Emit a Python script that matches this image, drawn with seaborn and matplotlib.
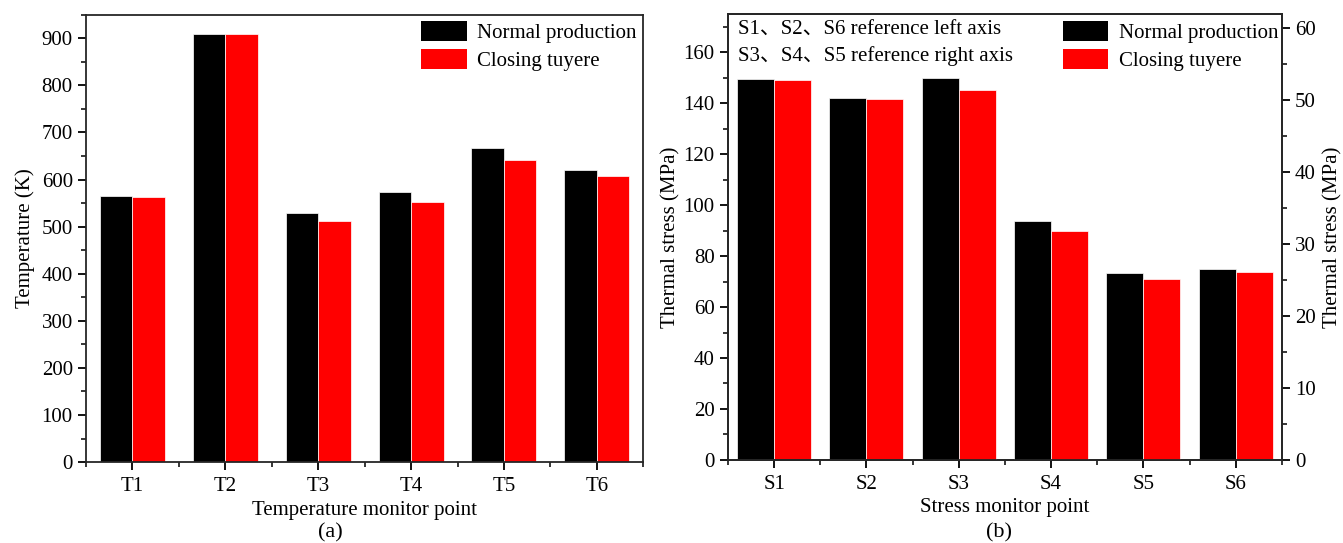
import numpy as np
import pandas as pd
import matplotlib
matplotlib.use("Agg")
import matplotlib.pyplot as plt
from matplotlib.patches import Patch
from matplotlib.ticker import MultipleLocator, FixedLocator
import seaborn as sns

# ---------------- data ----------------
temp_points = ["T1", "T2", "T3", "T4", "T5", "T6"]
temp_normal = [564, 910, 529, 573, 666, 620]
temp_closing = [563, 910, 512, 553, 642, 608]

stress_points = ["S1", "S2", "S3", "S4", "S5", "S6"]
# S1, S2, S6 read on the left axis; S3, S4, S5 read on the right axis
stress_normal = [149.6, 142.1, 53.1, 33.2, 26.0, 74.9]
stress_closing = [149.0, 141.7, 51.5, 31.8, 25.1, 73.9]
stress_axis = ["left", "left", "right", "right", "right", "left"]

conditions = ["Normal production", "Closing tuyere"]
colors = ["#000000", "#ff0000"]

# ---------------- style ----------------
sns.set_style("ticks")
plt.rcParams["font.family"] = ["Liberation Serif", "Noto Sans CJK SC", "DejaVu Sans"]
plt.rcParams["axes.linewidth"] = 1.3
plt.rcParams["xtick.major.width"] = 1.3
plt.rcParams["ytick.major.width"] = 1.3
plt.rcParams["xtick.minor.width"] = 1.1
plt.rcParams["ytick.minor.width"] = 1.1
plt.rcParams["xtick.major.size"] = 6
plt.rcParams["ytick.major.size"] = 6
plt.rcParams["xtick.minor.size"] = 3.5
plt.rcParams["ytick.minor.size"] = 3.5
plt.rcParams["xtick.direction"] = "out"
plt.rcParams["ytick.direction"] = "out"
plt.rcParams["text.color"] = "black"
plt.rcParams["axes.labelcolor"] = "black"
plt.rcParams["xtick.color"] = "black"
plt.rcParams["ytick.color"] = "black"

FS_TICK = 15
FS_LABEL = 15

fig = plt.figure(figsize=(13.43, 5.43), dpi=100)
axL = fig.add_axes([0.064, 0.149, 0.415, 0.824])
axR = fig.add_axes([0.542, 0.153, 0.4125, 0.821])
axRR = axR.twinx()

# ---------------- left chart ----------------
dfT = pd.DataFrame({
    "point": temp_points * 2,
    "value": temp_normal + temp_closing,
    "condition": [conditions[0]] * 6 + [conditions[1]] * 6,
})
sns.barplot(data=dfT, x="point", y="value", hue="condition", order=temp_points,
            hue_order=conditions, palette=colors, width=0.7, saturation=1,
            errorbar=None, legend=False, edgecolor="white", linewidth=0.5, ax=axL)
axL.set_xlim(-0.5, 5.5)
axL.set_ylim(0, 950)
axL.yaxis.set_major_locator(MultipleLocator(100))
axL.yaxis.set_minor_locator(MultipleLocator(50))
axL.xaxis.set_minor_locator(FixedLocator(np.arange(-0.5, 6.0, 1.0)))
axL.set_xlabel("Temperature monitor point", fontsize=FS_LABEL, labelpad=3)
axL.set_ylabel("Temperature (K)", fontsize=FS_LABEL, labelpad=5)
axL.tick_params(axis="both", labelsize=FS_TICK)
axL.tick_params(axis="x", pad=5)
axL.tick_params(top=False, right=False, which="both")
axL.legend(handles=[Patch(facecolor=c, edgecolor="none") for c in colors], labels=conditions,
           loc="upper left", bbox_to_anchor=(0.601, 0.985), frameon=False,
           fontsize=FS_LABEL, handlelength=2.2, handleheight=1.1, handletextpad=0.5,
           labelspacing=0.25, borderpad=0, borderaxespad=0)

# ---------------- right chart ----------------
rows = []
for i, p in enumerate(stress_points):
    rows.append((p, stress_normal[i], conditions[0], stress_axis[i]))
    rows.append((p, stress_closing[i], conditions[1], stress_axis[i]))
dfS = pd.DataFrame(rows, columns=["point", "value", "condition", "axis"])

sns.barplot(data=dfS[dfS["axis"] == "left"], x="point", y="value", hue="condition",
            order=stress_points, hue_order=conditions, palette=colors, width=0.8,
            saturation=1, errorbar=None, legend=False, edgecolor="white", linewidth=0.5, ax=axR)
sns.barplot(data=dfS[dfS["axis"] == "right"], x="point", y="value", hue="condition",
            order=stress_points, hue_order=conditions, palette=colors, width=0.8,
            saturation=1, errorbar=None, legend=False, edgecolor="white", linewidth=0.5, ax=axRR)

for a in (axR, axRR):
    a.set_xlim(-0.5, 5.5)
axR.set_ylim(0, 175)
axRR.set_ylim(0, 62)
axR.yaxis.set_major_locator(MultipleLocator(20))
axR.yaxis.set_minor_locator(MultipleLocator(10))
axRR.yaxis.set_major_locator(MultipleLocator(10))
axRR.yaxis.set_minor_locator(MultipleLocator(5))
axR.xaxis.set_minor_locator(FixedLocator(np.arange(-0.5, 6.0, 1.0)))
axRR.xaxis.set_minor_locator(FixedLocator(np.arange(-0.5, 6.0, 1.0)))
axR.set_xticks(range(6))
axR.set_xticklabels(stress_points)
axRR.tick_params(axis="x", which="both", bottom=False, labelbottom=False)
axR.set_xlabel("Stress monitor point", fontsize=FS_LABEL, labelpad=3)
axRR.set_xlabel("")
axR.set_ylabel("Thermal stress (MPa)", fontsize=FS_LABEL, labelpad=2)
axRR.set_ylabel("Thermal stress (MPa)", fontsize=FS_LABEL, labelpad=5)
axR.tick_params(axis="both", labelsize=FS_TICK)
axR.tick_params(axis="x", pad=5)
axR.tick_params(top=False, right=False, which="both")
axRR.tick_params(axis="y", labelsize=FS_TICK, which="both", right=True, left=False)
for s in ("top", "right", "left", "bottom"):
    axRR.spines[s].set_visible(True)
    axR.spines[s].set_visible(True)

axRR.text(0.0175, 0.964, "S1、S2、S6 reference left axis", transform=axRR.transAxes,
          fontsize=FS_LABEL, va="center", ha="left")
axRR.text(0.0175, 0.906, "S3、S4、S5 reference right axis", transform=axRR.transAxes,
          fontsize=FS_LABEL, va="center", ha="left")
axRR.legend(handles=[Patch(facecolor=c, edgecolor="none") for c in colors], labels=conditions,
            loc="upper left", bbox_to_anchor=(0.604, 0.984), frameon=False,
            fontsize=FS_LABEL, handlelength=2.2, handleheight=1.1, handletextpad=0.5,
            labelspacing=0.25, borderpad=0, borderaxespad=0)

fig.text(0.246, 0.019, "(a)", fontsize=FS_LABEL + 1, ha="center", va="center")
fig.text(0.744, 0.019, "(b)", fontsize=FS_LABEL + 1, ha="center", va="center")

fig.savefig("out.png", dpi=100)
